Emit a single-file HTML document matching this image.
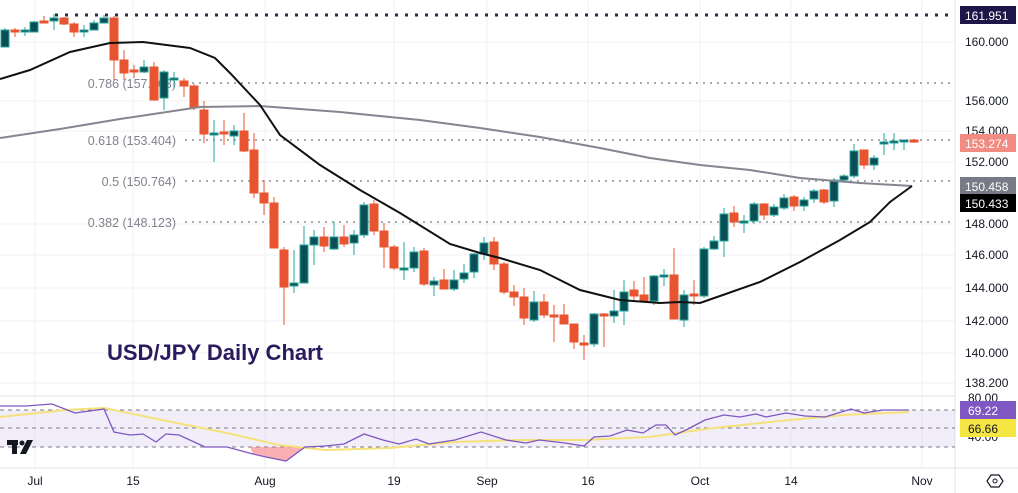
<!DOCTYPE html>
<html><head><meta charset="utf-8"><style>
html,body{margin:0;padding:0;background:#fff;}
svg{display:block;font-family:"Liberation Sans",sans-serif;}
</style></head><body>
<svg id="c" width="1018" height="493" viewBox="0 0 1018 493" xmlns="http://www.w3.org/2000/svg">
<rect width="1018" height="493" fill="#fff"/>
<g stroke="#f0f1f4" stroke-width="1">
<line x1="35" y1="0" x2="35" y2="468"/><line x1="133" y1="0" x2="133" y2="468"/><line x1="265" y1="0" x2="265" y2="468"/><line x1="394" y1="0" x2="394" y2="468"/><line x1="487" y1="0" x2="487" y2="468"/><line x1="588" y1="0" x2="588" y2="468"/><line x1="700" y1="0" x2="700" y2="468"/><line x1="791" y1="0" x2="791" y2="468"/><line x1="922" y1="0" x2="922" y2="468"/>
<line x1="0" y1="42" x2="955" y2="42"/><line x1="0" y1="101" x2="955" y2="101"/><line x1="0" y1="131" x2="955" y2="131"/><line x1="0" y1="162" x2="955" y2="162"/><line x1="0" y1="224" x2="955" y2="224"/><line x1="0" y1="255" x2="955" y2="255"/><line x1="0" y1="288" x2="955" y2="288"/><line x1="0" y1="321" x2="955" y2="321"/><line x1="0" y1="353" x2="955" y2="353"/><line x1="0" y1="383" x2="955" y2="383"/>
</g>
<line x1="0" y1="396" x2="955" y2="396" stroke="#e0e3eb"/>
<line x1="955" y1="0" x2="955" y2="493" stroke="#e0e3eb"/>
<line x1="0" y1="468" x2="1018" y2="468" stroke="#e0e3eb"/>
<g stroke="#8a8d96" stroke-width="1.5" stroke-dasharray="2,5">
<line x1="185" y1="83" x2="952" y2="83"/><line x1="185" y1="140" x2="952" y2="140"/><line x1="185" y1="181" x2="952" y2="181"/><line x1="185" y1="222" x2="952" y2="222"/>
</g>
<line x1="55" y1="15" x2="952" y2="15" stroke="#2a2e45" stroke-width="3" stroke-dasharray="3,7"/>
<g fill="#80838c" font-size="12.5" text-anchor="end">
<text x="176" y="88">0.786 (157.163)</text><text x="176" y="145">0.618 (153.404)</text><text x="176" y="186">0.5 (150.764)</text><text x="176" y="227">0.382 (148.123)</text>
</g>
<g id="candles"></g>
<polyline fill="none" stroke="#858590" stroke-width="2" points="0,138 60,129 120,119 200,107 260,106 340,112 420,120 480,128 540,137 600,148 650,158 700,165 750,170 800,178 860,183 912,186"/>
<polyline fill="none" stroke="#111" stroke-width="2" points="0,79 30,70 70,52 110,43 143,42 190,48 215,58 230,73 260,105 280,135 320,165 360,190 400,213 450,244 480,253 500,258 540,270 580,290 620,300 660,303 680,302 700,303 720,296 760,282 800,262 840,240 870,222 890,202 912,186"/>
<text x="107" y="360" font-size="22" font-weight="bold" fill="#2a1a5e">USD/JPY Daily Chart</text>
<rect x="0" y="410" width="955" height="37" fill="#7e57c2" fill-opacity="0.1"/>
<g stroke="#787b86" stroke-dasharray="4,4" stroke-width="1">
<line x1="0" y1="410" x2="955" y2="410"/><line x1="0" y1="428" x2="955" y2="428"/><line x1="0" y1="447" x2="955" y2="447"/>
</g>
<polygon fill="#f77c80" fill-opacity="0.6" points="250,447 253,454 266,457 286,461 305,447"/>
<polyline fill="none" stroke="#f5e27a" stroke-width="2" points="0,417 65,410 104,408 162,420 227,433 279,445 325,450 390,448 455,442 519,440 584,440 649,437 714,428 779,421 844,415 909,412"/>
<polyline fill="none" stroke="#7e57c2" stroke-width="1.3" points="0,406 26,406 52,404 75,413 104,409 114,432 130,435 143,434 156,442 166,434 179,435 205,447 227,447 253,454 266,457 286,461 305,447 325,446 344,444 364,434 383,440 399,444 416,439 429,444 455,440 481,432 506,440 526,443 539,440 565,443 584,446 594,437 610,436 627,430 643,433 656,425 666,425 675,435 688,429 705,420 724,415 740,417 756,414 766,417 786,413 805,416 825,417 838,413 851,409 864,413 883,410 909,410"/>
<g fill="#131722"><rect x="7" y="440" width="11" height="5"/><rect x="12" y="440" width="5" height="14"/><circle cx="22" cy="443" r="2.5"/><polygon points="27,440 33,440 26,454 20,454"/></g>
<g font-size="12" fill="#131722">
<text x="965" y="46">160.000</text><text x="965" y="105">156.000</text><text x="965" y="135">154.000</text><text x="965" y="166">152.000</text><text x="965" y="228">148.000</text><text x="965" y="259">146.000</text><text x="965" y="292">144.000</text><text x="965" y="325">142.000</text><text x="965" y="357">140.000</text><text x="965" y="387">138.200</text>
<text x="968" y="402">80.00</text><text x="968" y="441">40.00</text>
</g>
<rect x="960" y="6" width="56" height="18" fill="#1e1548"/><text x="965" y="20" font-size="12" fill="#fff">161.951</text>
<rect x="960" y="134" width="56" height="18" fill="#f28b82"/><text x="965" y="148" font-size="12" fill="#fff">153.274</text>
<rect x="960" y="177" width="56" height="18" fill="#787b86"/><text x="965" y="191" font-size="12" fill="#fff">150.458</text>
<rect x="960" y="194" width="56" height="18" fill="#000"/><text x="965" y="208" font-size="12" fill="#fff">150.433</text>
<rect x="960" y="401" width="56" height="18" fill="#7e57c2"/><text x="968" y="415" font-size="12" fill="#fff">69.22</text>
<rect x="960" y="419" width="56" height="18" fill="#f5e642"/><text x="968" y="433" font-size="12" fill="#131722">66.66</text>
<g font-size="12" fill="#131722" text-anchor="middle">
<text x="35" y="485">Jul</text><text x="133" y="485">15</text><text x="265" y="485">Aug</text><text x="394" y="485">19</text><text x="487" y="485">Sep</text><text x="588" y="485">16</text><text x="700" y="485">Oct</text><text x="791" y="485">14</text><text x="922" y="485">Nov</text>
</g>
<polygon points="991,475 999,475 1003,481 999,487 991,487 987,481" fill="none" stroke="#131722" stroke-width="1.2"/>
<circle cx="995" cy="481" r="2" fill="none" stroke="#131722"/>
</svg>
<script>
var d=[[5,47,30,28,47],[15,30,31,28,37],[25,30,30,27,36],[34,32,22,21,32],[44,21,22,16,22],[54,21,18,14,30],[64,18,24,17,25],[74,24,32,22,37],[84,30,30,25,37],[94,30,23,20,30],[104,23,18,15,23],[114,18,60,16,80],[124,60,73,50,80],[134,70,72,65,78],[144,72,67,60,73],[154,67,100,62,100],[164,98,72,70,110],[174,78,78,72,88],[184,81,86,78,97],[194,86,108,84,110],[204,110,134,101,143],[214,133,133,120,162],[224,132,134,120,145],[234,136,131,125,145],[244,131,151,113,152],[254,150,193,133,198],[264,193,203,180,215],[274,203,248,197,248],[284,250,287,247,325],[294,286,283,250,293],[304,283,245,226,283],[314,245,237,230,265],[324,237,246,227,252],[334,249,237,222,250],[344,237,244,225,247],[354,243,235,230,255],[364,235,205,202,238],[374,204,231,200,235],[384,231,247,223,268],[394,247,268,245,270],[404,268,268,242,280],[414,268,252,247,272],[424,251,284,248,286],[434,285,281,277,296],[444,280,289,269,289],[454,289,280,270,291],[464,279,273,264,283],[474,272,254,253,278],[484,254,243,237,260],[494,242,264,237,270],[504,264,292,262,294],[514,292,297,285,306],[524,297,318,288,325],[534,320,302,291,322],[544,302,315,294,318],[554,315,316,305,342],[564,315,324,304,324],[574,324,342,324,349],[584,343,345,335,360],[594,344,314,313,347],[604,314,316,313,347],[614,316,311,290,323],[624,311,292,280,325],[634,290,296,281,302],[644,295,301,277,302],[654,301,276,275,305],[664,275,275,269,286],[674,275,319,248,319],[684,320,295,290,327],[694,294,296,280,305],[704,296,249,247,298],[714,249,241,236,250],[724,241,214,208,257],[734,213,222,206,227],[744,221,221,215,233],[754,221,204,202,224],[764,204,215,203,220],[774,215,207,204,217],[784,208,198,194,210],[794,197,206,195,211],[804,206,200,197,211],[814,199,191,189,203],[824,190,202,189,204],[834,201,180,178,207],[844,180,176,174,183],[854,176,151,144,178],[864,150,165,150,169],[874,165,158,155,170],[884,142,142,133,155],[894,141,141,133,150],[904,140,140,140,150],[914,140,142,139,143]];
var g=document.getElementById('candles'),s='';
d.forEach(function(c){var up=c[2]<=c[1]&&!(c[0]==914);var col=up?'#0a4f55':'#e8542f';var wcol=up?'#26a69a':'#e8542f';
var t=Math.min(c[1],c[2]),b=Math.max(c[1],c[2]);if(b-t<2){b=t+2;}
s+='<line x1="'+c[0]+'" y1="'+c[3]+'" x2="'+c[0]+'" y2="'+c[4]+'" stroke="'+wcol+'" stroke-width="1"/>';
s+='<rect x="'+(c[0]-4)+'" y="'+t+'" width="8" height="'+(b-t)+'" fill="'+col+'" stroke="'+wcol+'" stroke-width="1"/>';});
g.innerHTML=s;
</script>
</body></html>
